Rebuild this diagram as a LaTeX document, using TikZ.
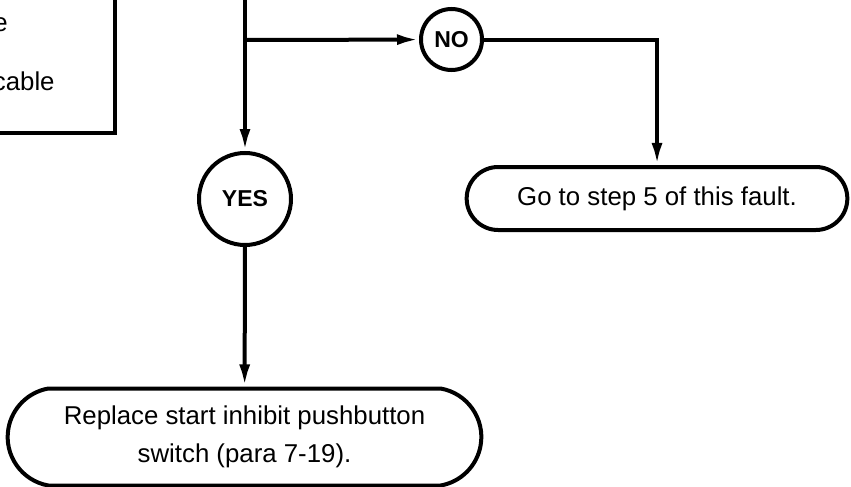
\documentclass[tikz,border=0pt]{standalone}
\usepackage{fontspec}
\setmainfont{Liberation Sans}
\usepackage{tikz}
\usetikzlibrary{shapes.geometric, shapes.misc, arrows.meta, positioning, calc}
\tikzstyle{answer} = [circle, draw, line width=2pt, font=\fontsize{11.5}{13}\selectfont\bfseries, inner sep=0pt]
\tikzstyle{terminal} = [rounded rectangle, draw, line width=2pt, align=center, font=\fontsize{12.9}{19}\selectfont]
\tikzstyle{line} = [draw, line width=2pt]
\tikzstyle{arrow} = [line width=2pt, -{Latex[length=11pt,width=5.5pt]}]

\begin{document}
\begin{tikzpicture}[x=0.5pt, y=-0.5pt, font=\fontsize{12.9}{19}\selectfont]
    \useasboundingbox (0,0) rectangle (851,487);
    \clip (0,0) rectangle (851,487);
    % box above, only its lower right corner is in view
    \node (checkbox) [draw, line width=2pt, anchor=south east, minimum width=200pt, minimum height=160pt] at (117,135) {};
    \node (checktxt1) [anchor=base east, inner sep=0pt] at (8,32) {e};
    \node (checktxt2) [anchor=base east, inner sep=0pt] at (55,90) {cable};

    \coordinate (top) at (245,-5);
    \coordinate (split) at (245,40);
    \node (yes) [answer, minimum size=46pt] at (245,199) {YES};
    \node (no) [answer, minimum size=30.5pt] at (451.5,39.5) {NO};
    \node (gostep) [terminal, minimum width=197pt, minimum height=31.5pt] at (657,198.5) {Go to step 5 of this fault.};
    \node (replace) [terminal, rounded rectangle arc length=160, minimum width=243.5pt, minimum height=48.5pt] at (244.5,437) {Replace start inhibit pushbutton\\switch (para 7-19).};

    \draw[arrow] (top) -- (yes);
    \draw[arrow] (split) -- (no);
    \draw[arrow] (no) -| (gostep);
    \draw[arrow] (yes) -- (replace);
  \end{tikzpicture}
\end{document}
